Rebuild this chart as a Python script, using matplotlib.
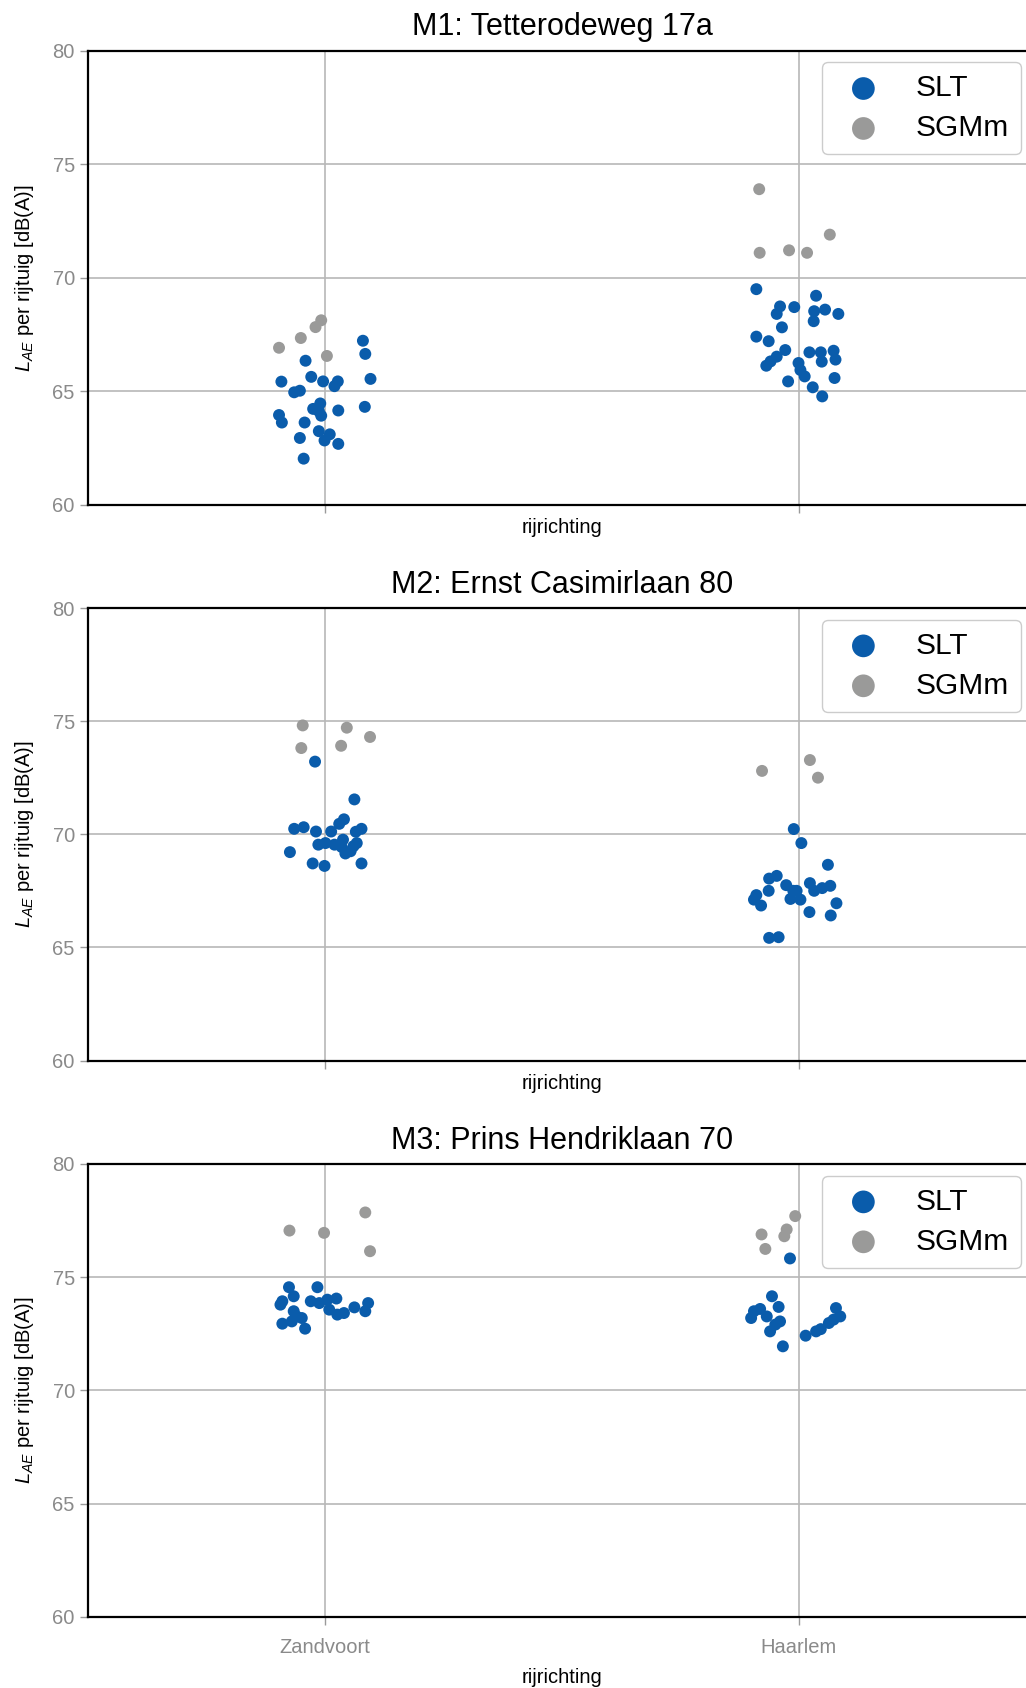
import matplotlib
matplotlib.use('Agg')
import matplotlib.pyplot as plt
import numpy as np

plt.rcParams['font.family'] = ['Liberation Sans', 'DejaVu Sans']
plt.rcParams['mathtext.fontset'] = 'custom'
plt.rcParams['mathtext.rm'] = 'Liberation Sans'
plt.rcParams['mathtext.it'] = 'Liberation Sans:italic'

# categories / series
richtingen = ['Zandvoort', 'Haarlem']
series = ['SLT', 'SGMm']
titels = ['M1: Tetterodeweg 17a', 'M2: Ernst Casimirlaan 80', 'M3: Prins Hendriklaan 70']

# values (dB(A)), with the strip jitter of each point
m1_slt_zv = [67.23, 66.65, 66.35, 65.55, 65.43, 65.64, 65.44, 65.44, 65.23, 64.96, 65.03, 64.47, 64.23,
             64.13, 63.93, 64.16, 64.32, 63.96, 63.63, 63.63, 63.25, 63.11, 62.84, 62.69, 62.95, 62.04]
m1_slt_zv_jit = [0.080, 0.085, -0.041, 0.096, -0.092, -0.029, -0.004, 0.027, 0.020, -0.065, -0.053, -0.010, -0.025,
                 -0.013, -0.008, 0.028, 0.084, -0.097, -0.091, -0.043, -0.013, 0.010, -0.001, 0.028, -0.053, -0.045]
m1_sgm_zv = [66.92, 67.35, 67.83, 68.13, 66.56]
m1_sgm_zv_jit = [-0.097, -0.051, -0.020, -0.008, 0.004]
m1_slt_hl = [69.50, 69.21, 68.74, 68.71, 68.41, 68.53, 68.60, 68.41, 68.09, 67.82, 67.41, 67.21, 66.82, 66.53,
             66.32, 66.13, 66.72, 66.72, 66.79, 66.31, 66.40, 66.25, 65.94, 65.66, 65.59, 65.44, 65.18, 64.78]
m1_slt_hl_jit = [-0.090, 0.036, -0.040, -0.010, -0.047, 0.032, 0.055, 0.083, 0.031, -0.036, -0.090, -0.064, -0.029, -0.047,
                 -0.060, -0.069, 0.022, 0.046, 0.073, 0.048, 0.077, -0.001, 0.003, 0.012, 0.075, -0.023, 0.029, 0.049]
m1_sgm_hl = [73.90, 71.10, 71.21, 71.10, 71.90]
m1_sgm_hl_jit = [-0.084, -0.083, -0.021, 0.017, 0.065]

m2_slt_zv = [73.21, 71.54, 70.66, 70.46, 70.24, 70.31, 70.12, 70.12, 70.24, 70.11, 69.54, 69.61,
             69.54, 69.76, 69.44, 69.61, 69.15, 69.25, 69.21, 68.71, 68.60, 68.71, 69.47]
m2_slt_zv_jit = [-0.021, 0.062, 0.040, 0.030, -0.065, -0.045, -0.019, 0.013, 0.077, 0.065, -0.014, 0.001,
                 0.020, 0.038, 0.035, 0.067, 0.043, 0.054, -0.074, -0.026, -0.001, 0.077, 0.060]
m2_sgm_zv = [74.81, 73.81, 74.71, 73.91, 74.30]
m2_sgm_zv_jit = [-0.047, -0.050, 0.046, 0.034, 0.095]
m2_slt_hl = [70.23, 69.61, 68.65, 68.04, 68.16, 67.50, 67.75, 67.50, 67.84, 67.50, 67.62, 67.72,
             67.31, 67.11, 66.85, 67.14, 67.11, 66.95, 66.56, 66.41, 65.42, 65.45, 67.50]
m2_slt_hl_jit = [-0.011, 0.005, 0.061, -0.063, -0.047, -0.064, -0.027, -0.005, 0.023, 0.032, 0.049, 0.066,
                 -0.090, -0.095, -0.080, -0.018, 0.003, 0.079, 0.022, 0.067, -0.063, -0.043, -0.012]
m2_sgm_hl = [72.80, 73.28, 72.50]
m2_sgm_hl_jit = [-0.078, 0.023, 0.040]

m3_slt_zv = [74.56, 74.56, 74.16, 73.94, 73.79, 73.94, 73.86, 74.01, 74.06, 73.57, 73.35,
             73.42, 73.67, 73.86, 73.50, 73.50, 73.27, 73.20, 72.95, 73.05, 72.73]
m3_slt_zv_jit = [-0.076, -0.016, -0.066, -0.090, -0.094, -0.030, -0.012, 0.005, 0.024, 0.009, 0.026,
                 0.040, 0.062, 0.091, 0.085, -0.066, -0.060, -0.049, -0.090, -0.070, -0.042]
m3_sgm_zv = [77.06, 76.96, 77.86, 76.15]
m3_sgm_zv_jit = [-0.075, -0.002, 0.085, 0.095]
m3_slt_hl = [75.83, 74.16, 73.69, 73.50, 73.60, 73.20, 73.27, 73.05, 72.61, 71.95,
             72.42, 72.61, 72.71, 72.98, 73.64, 73.27, 73.13, 72.91]
m3_slt_hl_jit = [-0.019, -0.057, -0.043, -0.095, -0.082, -0.101, -0.068, -0.040, -0.061, -0.034,
                 0.014, 0.036, 0.046, 0.063, 0.078, 0.087, 0.073, -0.050]
m3_sgm_hl = [76.89, 76.25, 76.81, 77.11, 77.70]
m3_sgm_hl_jit = [-0.079, -0.071, -0.031, -0.026, -0.008]

panels = [
    {'SLT': [(m1_slt_zv, m1_slt_zv_jit), (m1_slt_hl, m1_slt_hl_jit)],
     'SGMm': [(m1_sgm_zv, m1_sgm_zv_jit), (m1_sgm_hl, m1_sgm_hl_jit)]},
    {'SLT': [(m2_slt_zv, m2_slt_zv_jit), (m2_slt_hl, m2_slt_hl_jit)],
     'SGMm': [(m2_sgm_zv, m2_sgm_zv_jit), (m2_sgm_hl, m2_sgm_hl_jit)]},
    {'SLT': [(m3_slt_zv, m3_slt_zv_jit), (m3_slt_hl, m3_slt_hl_jit)],
     'SGMm': [(m3_sgm_zv, m3_sgm_zv_jit), (m3_sgm_hl, m3_sgm_hl_jit)]},
]

kleuren = {'SLT': '#0a5cab', 'SGMm': '#9a9a99'}

W, H = 1026, 1688
fig = plt.figure(figsize=(W / 100, H / 100), dpi=100)

# axes boxes in pixels (top, bottom); right side runs past the figure edge
ax_left, ax_right = 88, 1036
boxes = [(50.6, 505), (608, 1060.5), (1164, 1617)]

for i, (top, bot) in enumerate(boxes):
    ax = fig.add_axes([ax_left / W, 1 - bot / H, (ax_right - ax_left) / W, (bot - top) / H])
    data = panels[i]
    for s in series:
        for k, (vals, jit) in enumerate(data[s]):
            x = k + np.array(jit)
            ax.scatter(x, vals, s=74, color=kleuren[s], edgecolors='none', zorder=3,
                       label=s if k == 0 else None)

    ax.set_xlim(-0.5, 1.5)
    ax.set_ylim(60, 80)
    ax.set_yticks([60, 65, 70, 75, 80])
    ax.set_xticks([0, 1])
    ax.grid(True, color='#b8b8b8', linewidth=1.2, zorder=0)
    ax.set_axisbelow(True)
    for sp in ax.spines.values():
        sp.set_color('black')
        sp.set_linewidth(1.6)
    ax.tick_params(direction='out', length=6, width=1, color='#9a9a9a',
                   labelcolor='#8a8a8a', labelsize=14.5)
    if i == 2:
        ax.set_xticklabels(richtingen)
        ax.tick_params(axis='x', pad=9)
        ax.set_xlabel('rijrichting', fontsize=14.5, labelpad=8)
    else:
        ax.set_xticklabels([])
        ax.set_xlabel('rijrichting', fontsize=14.5, labelpad=0)
    ax.set_title(titels[i], fontsize=22, pad=11)
    ax.set_ylabel('$L_{AE}$ per rijtuig [dB(A)]', fontsize=14.5, labelpad=12)

    leg = ax.legend(loc='upper right', bbox_to_anchor=(0.984, 0.974), borderaxespad=0,
                    fontsize=21.5, markerscale=1.9, labelspacing=0.4,
                    fancybox=True, framealpha=1, edgecolor='#cccccc', handletextpad=0.75,
                    borderpad=0.4)
    leg.get_frame().set_linewidth(1.0)

fig.savefig('out.png', dpi=100)
